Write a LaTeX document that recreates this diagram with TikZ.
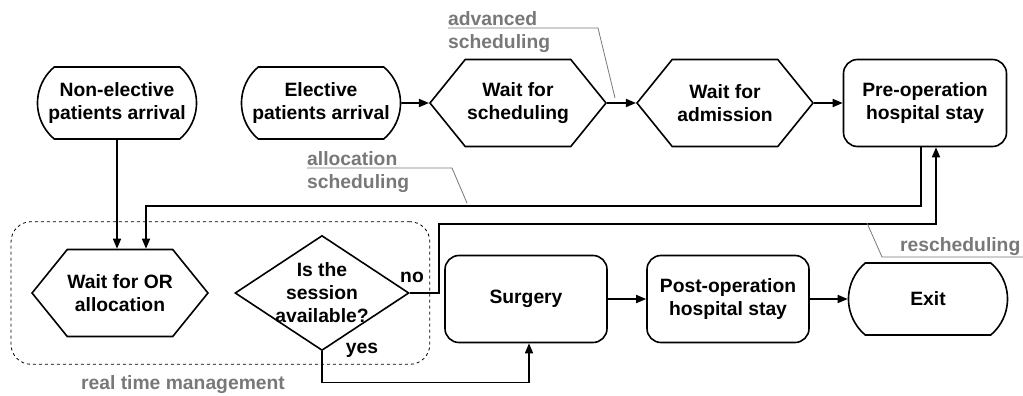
\documentclass[tikz,border=0pt]{standalone}
\usepackage{fontspec}
\setmainfont{Liberation Sans}
\usetikzlibrary{arrows.meta, shapes.geometric, shapes.misc, shapes.symbols, positioning, fit}
\definecolor{notegray}{RGB}{120,120,120}

\begin{document}
\begin{tikzpicture}[x=1pt, y=-1pt,
    every node/.style={font=\bfseries\fontsize{19.3}{23}\selectfont, align=center, inner sep=0pt},
    arrival/.style={draw, line width=1.6pt, rounded rectangle, rounded rectangle arc length=100, minimum width=159pt, minimum height=72pt},
    waiting/.style={draw, line width=1.6pt, signal, signal to=west and east, signal pointer angle=102, minimum width=176pt, minimum height=87pt},
    stay/.style={draw, line width=1.6pt, rectangle, rounded corners=14pt, minimum width=162pt, minimum height=87pt},
    question/.style={draw, line width=1.6pt, diamond, minimum width=174pt, minimum height=115pt},
    region/.style={draw, dashed, line width=0.8pt, rounded corners=20pt, inner xsep=20pt, inner ysep=13pt},
    flow/.style={line width=1.6pt, -{Triangle[length=10pt, width=8pt]}},
    note/.style={text=notegray},
    leader/.style={draw=notegray, line width=0.8pt}]
    \useasboundingbox (0,0) rectangle (1023,396);
    \node[arrival] (nonelec) at (117, 103) {Non-elective\\patients arrival};
    \node[arrival] (elec) at (321, 103) {Elective\\patients arrival};
    \node[waiting] (waitsched) at (518, 103) {Wait for\\scheduling};
    \node[waiting] (waitadm) at (725, 103) {Wait for\\admission};
    \node[stay, minimum width=163pt] (preop) at (925, 103) {Pre-operation\\hospital stay};
    \node[waiting, minimum width=173pt] (waitor) at (120, 293) {Wait for OR\\allocation};
    \node[question, label={center:Is the\\session\\available?}] (avail) at (322, 293) {};
    \node[stay] (surgery) at (526, 299) {Surgery};
    \node[stay] (postop) at (728, 299) {Post-operation\\hospital stay};
    \node[arrival] (exit) at (928, 299) {Exit};
    \node[region, fit=(waitor)(avail)] (rtm) {};
    \node[note] (rtmlabel) at (183, 385) {real time management};
    \node (nolabel) at (412, 277) {no};
    \node (yeslabel) at (362, 350) {yes};
    \coordinate (alloc) at (146, 206);
    \coordinate (resched) at (439, 224);
    \draw[flow] (elec) -- (waitsched);
    \draw[flow] (waitsched) -- (waitadm);
    \draw[flow] (waitadm) -- (preop);
    \draw[flow] (nonelec) -- (nonelec |- waitor.north);
    \draw[flow] ([xshift=-4pt]preop.south) |- (alloc) -- (alloc |- waitor.north);
    \draw[flow] (avail.east) -| (resched) -| ([xshift=11pt]preop.south);
    \draw[flow] (avail.south) -- ++(0, 31) -| ([xshift=3pt]surgery.south);
    \draw[flow] (surgery) -- (postop);
    \draw[flow] (postop) -- (exit);
    \node[note, align=left, anchor=west] (advlabel) at (448, 32) {advanced\\scheduling};
    \node[note, align=left, anchor=west] (alloclabel) at (307, 172) {allocation\\scheduling};
    \node[note, anchor=west] (reschedlabel) at (900, 247) {rescheduling};
    \coordinate (advtip) at (615, 98);
    \coordinate (alloctip) at (467, 203);
    \coordinate (reschedtip) at (867, 223);
    \draw[leader] ([yshift=4pt]advlabel.west) -- ++(150, 0) -- (advtip);
    \draw[leader] ([yshift=4pt]alloclabel.west) -- ++(145, 0) -- (alloctip);
    \draw[leader] (reschedtip) -- ([xshift=-18pt, yshift=-10pt]reschedlabel.west) -- ++(141, 0);
\end{tikzpicture}
\end{document}
